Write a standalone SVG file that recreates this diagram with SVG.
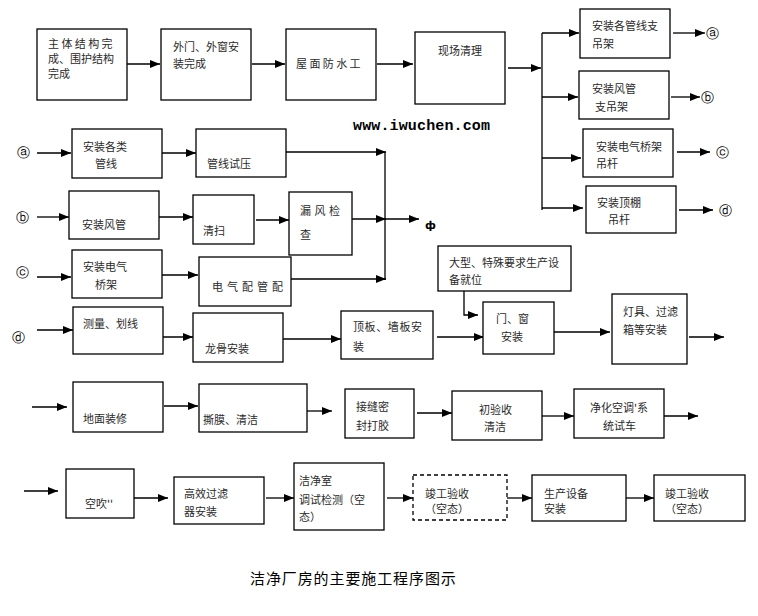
<svg xmlns="http://www.w3.org/2000/svg" width="758" height="616" viewBox="0 0 758 616">
<defs>
<marker id="ah" markerUnits="userSpaceOnUse" markerWidth="10" markerHeight="8" refX="10" refY="4" orient="auto">
<path d="M0,0 L10,4 L0,8 z" fill="#000"/>
</marker>
<style>
.b{fill:#fff;stroke:#000;stroke-width:1.3}
.d{fill:#fff;stroke:#000;stroke-width:1.3;stroke-dasharray:4 3}
.t{font-family:"Noto Sans CJK SC","Noto Sans",sans-serif;font-size:11px;fill:#2a2a2a}
.c{font-family:"DejaVu Sans",sans-serif;font-size:13px;fill:#000}
.l{fill:none;stroke:#000;stroke-width:1.3}
.a{fill:none;stroke:#000;stroke-width:1.3;marker-end:url(#ah)}
</style>
</defs>
<rect width="758" height="616" fill="#fff"/>
<g id="connectors">
<path class="a" d="M127,64 H160"/>
<path class="a" d="M252,64 H285"/>
<path class="a" d="M377,64 H413"/>
<path class="a" d="M508,68 H541"/>
<path class="l" d="M542,33 V210"/>
<path class="a" d="M542,33 H579"/>
<path class="a" d="M542,97 H578"/>
<path class="a" d="M542,158 H581"/>
<path class="a" d="M542,208 H583"/>
<path class="a" d="M673,33 H705"/>
<path class="a" d="M671,97 H700"/>
<path class="a" d="M677,152 H710"/>
<path class="a" d="M679,210 H713"/>
<path class="a" d="M37,153 H71"/>
<path class="a" d="M162,153 H196"/>
<path class="a" d="M285,152 H386"/>
<path class="l" d="M385,152 V280"/>
<path class="a" d="M37,217 H69"/>
<path class="a" d="M159,217 H193"/>
<path class="a" d="M256,220 H289"/>
<path class="a" d="M352,219 H386"/>
<path class="a" d="M385,219 H419"/>
<path class="a" d="M37,277 H71"/>
<path class="a" d="M162,275 H198"/>
<path class="a" d="M291,279 H386"/>
<path class="a" d="M37,330 H73"/>
<path class="a" d="M159,337 H193"/>
<path class="a" d="M283,339 H341"/>
<path class="a" d="M437,337 H484"/>
<path class="a" d="M464,291 V315 H478"/>
<path class="a" d="M554,332 H610"/>
<path class="a" d="M689,337 H724"/>
<path class="a" d="M32,407 H67"/>
<path class="a" d="M164,406 H198"/>
<path class="a" d="M304,411 H332"/>
<path class="a" d="M417,413 H452"/>
<path class="a" d="M542,416 H574"/>
<path class="a" d="M664,416 H698"/>
<path class="a" d="M24,491 H58"/>
<path class="a" d="M134,498 H168"/>
<path class="a" d="M266,498 H294"/>
<path class="a" d="M387,498 H413"/>
<path class="a" d="M507,498 H532"/>
<path class="a" d="M626,498 H654"/>
</g>
<g id="n1"><rect class="b" x="37" y="29" width="90" height="71"/><text class="t" x="48" y="48" letter-spacing="2.4">主体结构完</text><text class="t" x="48" y="63">成、围护结构</text><text class="t" x="48" y="78">完成</text></g>
<g id="n2"><rect class="b" x="161" y="29" width="90" height="71"/><text class="t" x="173" y="51">外门、外窗安</text><text class="t" x="173" y="68">装完成</text></g>
<g id="n3"><rect class="b" x="286" y="29" width="90" height="71"/><text class="t" x="296" y="68" letter-spacing="2.4">屋面防水工</text></g>
<g id="n4"><rect class="b" x="415" y="32" width="90" height="72"/><text class="t" x="438" y="55">现场清理</text></g>
<g id="na"><rect class="b" x="580" y="9" width="90" height="49"/><text class="t" x="592" y="30">安装各管线支</text><text class="t" x="592" y="48">吊架</text></g>
<g id="nb"><rect class="b" x="579" y="71" width="90" height="48"/><text class="t" x="592" y="93">安装风管</text><text class="t" x="595" y="111">支吊架</text></g>
<g id="nc"><rect class="b" x="583" y="129" width="90" height="48"/><text class="t" x="596" y="151">安装电气桥架</text><text class="t" x="596" y="168">吊杆</text></g>
<g id="nd"><rect class="b" x="586" y="186" width="90" height="47"/><text class="t" x="597" y="207">安装顶棚</text><text class="t" x="608" y="224">吊杆</text></g>
<g id="ca1"><text class="c" x="712" y="38" text-anchor="middle">ⓐ</text></g>
<g id="cb1"><text class="c" x="707" y="102" text-anchor="middle">ⓑ</text></g>
<g id="cc1"><text class="c" x="722" y="157" text-anchor="middle">ⓒ</text></g>
<g id="cd1"><text class="c" x="725" y="215" text-anchor="middle">ⓓ</text></g>
<g id="watermark"><text x="353" y="130" font-family="Liberation Mono,monospace" font-weight="bold" font-size="15" fill="#000" textLength="137">www.iwuchen.com</text></g>
<g id="ca2"><text class="c" x="23" y="157" text-anchor="middle">ⓐ</text></g>
<g id="cb2"><text class="c" x="22" y="222" text-anchor="middle">ⓑ</text></g>
<g id="cc2"><text class="c" x="22" y="277" text-anchor="middle">ⓒ</text></g>
<g id="cd2"><text class="c" x="18" y="342" text-anchor="middle">ⓓ</text></g>
<g id="n5"><rect class="b" x="72" y="129" width="90" height="49"/><text class="t" x="83" y="151">安装各类</text><text class="t" x="95" y="168">管线</text></g>
<g id="n6"><rect class="b" x="196" y="129" width="90" height="48"/><text class="t" x="207" y="168">管线试压</text></g>
<g id="n7"><rect class="b" x="69" y="191" width="90" height="48"/><text class="t" x="82" y="229">安装风管</text></g>
<g id="n8"><rect class="b" x="193" y="195" width="61" height="49"/><text class="t" x="203" y="235">清扫</text></g>
<g id="n9"><rect class="b" x="289" y="192" width="63" height="63"/><text class="t" x="300" y="215" letter-spacing="3.5">漏风检</text><text class="t" x="300" y="239">查</text></g>
<g id="phi"><text x="425" y="229" font-family="DejaVu Sans,sans-serif" font-weight="bold" font-size="11" fill="#000">ф</text></g>
<g id="n10"><rect class="b" x="72" y="250" width="90" height="48"/><text class="t" x="83" y="271">安装电气</text><text class="t" x="95" y="289">桥架</text></g>
<g id="n11"><rect class="b" x="199" y="257" width="92" height="49"/><text class="t" x="212" y="291" letter-spacing="4">电气配管配</text></g>
<g id="n12"><rect class="b" x="73" y="307" width="90" height="47"/><text class="t" x="83" y="328">测量、划线</text></g>
<g id="n13"><rect class="b" x="193" y="313" width="90" height="49"/><text class="t" x="205" y="353">龙骨安装</text></g>
<g id="n14"><rect class="b" x="341" y="311" width="92" height="48"/><text class="t" x="353" y="331" letter-spacing="0.6">顶板、墙板安</text><text class="t" x="353" y="351">装</text></g>
<g id="n15"><rect class="b" x="438" y="246" width="133" height="45"/><text class="t" x="449" y="267">大型、特殊要求生产设</text><text class="t" x="449" y="284">备就位</text></g>
<g id="n16"><rect class="b" x="483" y="302" width="71" height="52"/><text class="t" x="496" y="323">门、窗</text><text class="t" x="501" y="341">安装</text></g>
<g id="n17"><rect class="b" x="612" y="294" width="75" height="70"/><text class="t" x="623" y="316">灯具、过滤</text><text class="t" x="623" y="334">箱等安装</text></g>
<g id="n18"><rect class="b" x="73" y="382" width="90" height="50"/><text class="t" x="83" y="423">地面装修</text></g>
<g id="n19"><rect class="b" x="199" y="384" width="108" height="48"/><text class="t" x="203" y="424">撕膜、清洁</text></g>
<g id="n20"><rect class="b" x="345" y="389" width="69" height="49"/><text class="t" x="356" y="411">接缝密</text><text class="t" x="356" y="430">封打胶</text></g>
<g id="n21"><rect class="b" x="452" y="391" width="90" height="49"/><text class="t" x="479" y="414">初验收</text><text class="t" x="484" y="431">清洁</text></g>
<g id="n22"><rect class="b" x="574" y="389" width="90" height="49"/><text class="t" x="590" y="412">净化空调'系</text><text class="t" x="603" y="430">统试车</text></g>
<g id="n23"><rect class="b" x="66" y="469" width="68" height="49"/><text class="t" x="85" y="508">空吹''</text></g>
<g id="n24"><rect class="b" x="174" y="477" width="90" height="47"/><text class="t" x="184" y="498">高效过滤</text><text class="t" x="184" y="516">器安装</text></g>
<g id="n25"><rect class="b" x="294" y="463" width="90" height="67"/><text class="t" x="299" y="485">洁净室</text><text class="t" x="299" y="504">调试检测（空</text><text class="t" x="299" y="521">态）</text></g>
<g id="n26"><rect class="d" x="413" y="475" width="94" height="45"/><text class="t" x="425" y="498">竣工验收</text><text class="t" x="425" y="513">（空态）</text></g>
<g id="n27"><rect class="b" x="532" y="475" width="94" height="46"/><text class="t" x="544" y="498">生产设备</text><text class="t" x="544" y="513">安装</text></g>
<g id="n28"><rect class="b" x="654" y="475" width="91" height="46"/><text class="t" x="665" y="498">竣工验收</text><text class="t" x="665" y="513">（空态）</text></g>
<g id="caption"><text x="250" y="584" font-family="Noto Sans CJK SC,sans-serif" font-size="15" fill="#000" letter-spacing="0.9">洁净厂房的主要施工程序图示</text></g>
</svg>
